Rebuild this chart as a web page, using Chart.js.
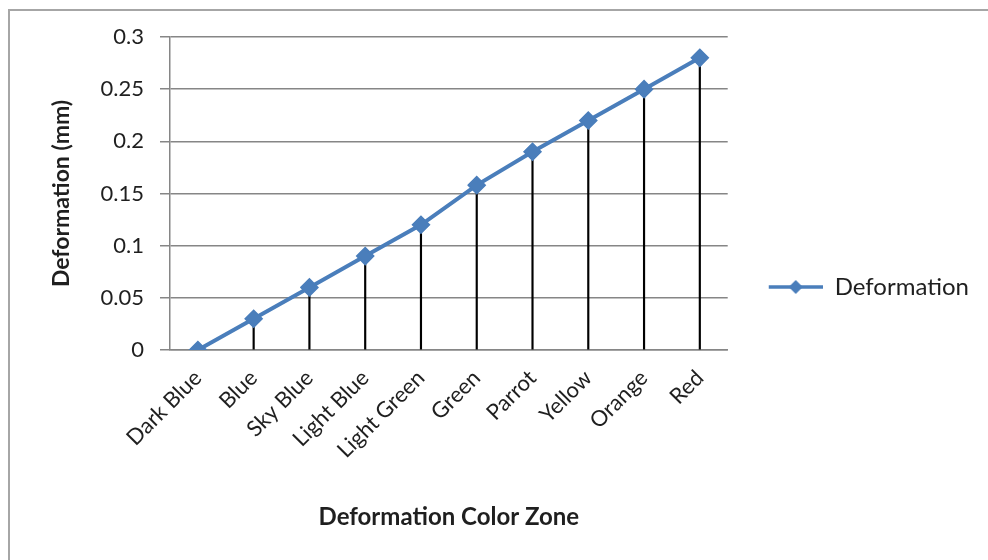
<html>
<head>
<meta charset="utf-8">
<style>
  body { margin: 0; background: #fff; }
  #frame { position: absolute; left: 8px; top: 9px; width: 1100px; height: 700px; border: 2px solid #a6a6a6; }
  #wrap { position: absolute; left: 0; top: 0; width: 988px; height: 560px; }
</style>
</head>
<body>
<div id="frame"></div>
<div id="wrap"><canvas id="myChart" width="988" height="560"></canvas></div>

<script src="https://cdn.jsdelivr.net/npm/chart.js"></script>
<script>
  // data
  const zones = ['Dark Blue', 'Blue', 'Sky Blue', 'Light Blue', 'Light Green', 'Green', 'Parrot', 'Yellow', 'Orange', 'Red'];
  const deformation = [0, 0.03, 0.06, 0.09, 0.12, 0.158, 0.19, 0.22, 0.25, 0.28];
  const yTicks = [0, 0.05, 0.1, 0.15, 0.2, 0.25, 0.3];

  const blue = '#4a7ebb';
  const font = 'Lato, "Open Sans", sans-serif';

  // legend icon: line with a diamond in the middle, some blank room on the left
  function legendIcon() {
    let c = document.createElement('canvas');
    c.width = 85; c.height = 20;
    let g = c.getContext('2d');
    g.strokeStyle = blue;
    g.lineWidth = 3.5;
    g.beginPath();
    g.moveTo(31, 10); g.lineTo(85, 10);
    g.stroke();
    g.fillStyle = blue;
    g.beginPath();
    g.moveTo(58 - 7, 10); g.lineTo(58, 3); g.lineTo(58 + 7, 10); g.lineTo(58, 17);
    g.closePath();
    g.fill();
    return c;
  }

  Chart.defaults.color = '#1f1f1f';
  Chart.defaults.font.family = font;

  const ctx = document.getElementById('myChart');
  var chart = new Chart(ctx, {
    type: 'line',
    data: {
      labels: zones,
      datasets: [{
        label: 'Deformation',
        data: deformation,
        borderColor: blue,
        backgroundColor: blue,
        borderWidth: 4,
        pointStyle: 'rectRot',
        pointRadius: 8.5,
        pointBorderWidth: 1.5,
        pointBackgroundColor: blue,
        pointBorderColor: blue,
        tension: 0,
        order: 0
      }, {
        type: 'bar',
        label: 'drop',
        data: deformation,
        backgroundColor: '#000',
        barThickness: 1.5,
        order: 1
      }]
    },
    options: {
      responsive: false,
      animation: false,
      layout: { padding: { left: 40, top: 37, right: 9, bottom: 23 } },
      plugins: {
        tooltip: { enabled: false },
        legend: {
          position: 'right',
          maxWidth: 320,
          labels: {
            filter: item => item.datasetIndex === 0,
            usePointStyle: true,
            pointStyle: legendIcon(),
            pointStyleWidth: 85,
            padding: 10,
            color: '#1f1f1f',
            font: { size: 24 }
          }
        }
      },
      scales: {
        x: {
          offset: true,
          grid: { display: false, drawTicks: false },
          border: { display: true, color: '#868686', width: 1.5 },
          ticks: { minRotation: 45, maxRotation: 45, padding: 15, font: { size: 22 } },
          title: { display: true, text: 'Deformation Color Zone', font: { size: 24, weight: 'bold' }, padding: { top: 0, bottom: 5 } },
          afterFit: s => { s.height = 187; }
        },
        y: {
          min: 0,
          max: 0.3,
          afterBuildTicks: s => { s.ticks = yTicks.map(v => ({ value: v })); },
          grid: { color: '#868686', lineWidth: 1.5, tickLength: 10 },
          border: { display: true, color: '#868686', width: 1.5 },
          ticks: { padding: 16, font: { size: 22 }, callback: v => String(Math.round(v * 100) / 100) },
          title: { display: true, text: 'Deformation (mm)', font: { size: 23, weight: 'bold' }, padding: { top: 8, bottom: 0 } },
          afterFit: s => { s.width = 130; }
        }
      }
    }
  });
</script>
</body>
</html>
